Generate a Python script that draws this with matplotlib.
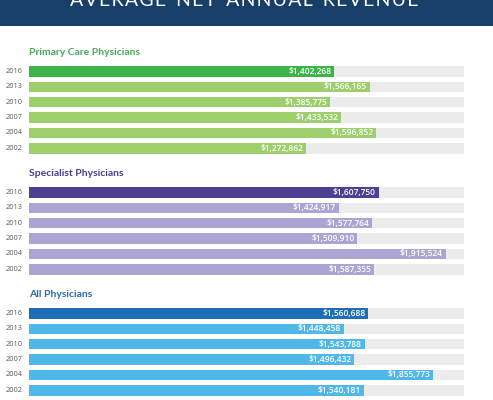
import matplotlib
matplotlib.use("Agg")
import matplotlib.pyplot as plt
from matplotlib.patches import Rectangle

years = ["2016", "2013", "2010", "2007", "2004", "2002"]
sections = ["Primary Care Physicians", "Specialist Physicians", "All Physicians"]
primary_care = [1402268, 1566165, 1385775, 1433532, 1596852, 1272862]
specialist = [1607750, 1424917, 1577764, 1509910, 1915524, 1587355]
all_phys = [1560688, 1448458, 1543788, 1496432, 1855773, 1540181]
title = "AVERAGE NET ANNUAL REVENUE"
axis_max = 2000000

series = [primary_care, specialist, all_phys]
dark_colors = ["#3db44b", "#4e3f93", "#1f6db4"]
light_colors = ["#9dcf6c", "#aaa5d3", "#4fb8e8"]
title_colors = ["#47a85a", "#4a3f8e", "#2a6aae"]

W, H = 493, 400
fig = plt.figure(figsize=(W / 100, H / 100), dpi=100)
fig.patch.set_facecolor("white")

# banner
fig.patches.append(Rectangle((0, 1 - 26 / H), 1, 26 / H, transform=fig.transFigure,
                             facecolor="#173f68", edgecolor="none", zorder=0))
fig.text(0.496, 1 - 6 / H, "\u200a".join(title).replace("\u200a \u200a", "  "),
         color="white", fontsize=14, family=["Lato", "DejaVu Sans"],
         ha="center", va="baseline")

left, right = 29, 464
ax = fig.add_axes([left / W, 0, (right - left) / W, 1])
ax.set_xlim(0, axis_max)
ax.set_ylim(H, 0)
ax.axis("off")

first_center = 71.5
pitch = 15.35
section_step = 121.0
bar_h = 10.5

for s, (name, vals) in enumerate(zip(sections, series)):
    y0 = first_center + s * section_step
    ax.text(0, y0 - 16.5, name, color=title_colors[s], fontsize=7.5, family="Lato",
            fontweight="bold", ha="left", va="baseline")
    ys = [y0 + i * pitch for i in range(len(years))]
    ax.barh(ys, [axis_max] * len(ys), height=bar_h, left=0, color="#ececec", zorder=1)
    cols = [dark_colors[s]] + [light_colors[s]] * (len(years) - 1)
    ax.barh(ys, vals, height=bar_h, left=0, color=cols, zorder=2)
    for y, v, yr in zip(ys, vals, years):
        ax.annotate(f"${v:,}", (v, y), xytext=(-2, 0), textcoords="offset points",
                    ha="right", va="center", color="white", fontsize=6.0,
                    family="Open Sans", fontweight="semibold", zorder=3)
        ax.annotate(yr, (0, y), xytext=(-4.5, 0), textcoords="offset points",
                    ha="right", va="center", color="#5a5a5a", fontsize=5.4,
                    family="Open Sans", zorder=3)

fig.savefig("out.png", dpi=100)
